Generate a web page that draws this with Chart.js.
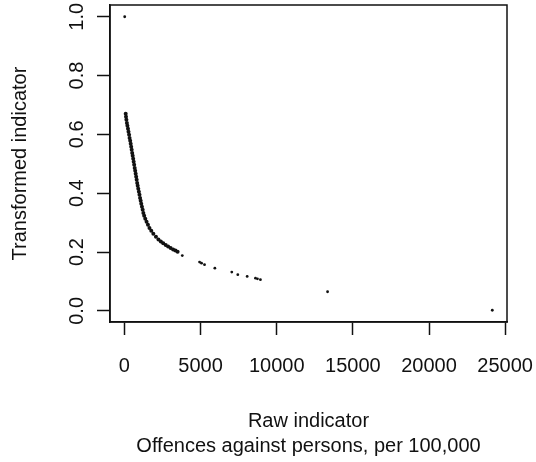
<!DOCTYPE html>
<html>
<head>
<meta charset="utf-8">
<script src="https://cdn.jsdelivr.net/npm/chart.js@4.4.1/dist/chart.umd.min.js"></script>
<style>
  html, body { margin: 0; padding: 0; background: #fff; }
  #wrap { width: 536px; height: 462px; position: relative; }
</style>
</head>
<body>
<div id="wrap"><canvas id="c" width="536" height="462"></canvas></div>
<script>
// Raw indicator (offences against persons per 100,000) — dense part of the curve
const curveRaw = [85, 105, 131, 164, 197, 236, 269, 308, 341, 380, 413, 446, 478, 511, 544, 577,
  609, 642, 675, 708, 740, 773, 806, 839, 872, 911, 950, 990, 1029, 1068, 1107, 1153, 1199,
  1245, 1298, 1370, 1455, 1547, 1645, 1763, 1900, 2071, 2235, 2392, 2549, 2713, 2870, 3034,
  3198, 3349, 3493];
const curveTransformed = [0.670, 0.660, 0.650, 0.639, 0.629, 0.619, 0.609, 0.599, 0.588, 0.578,
  0.568, 0.558, 0.548, 0.537, 0.527, 0.517, 0.507, 0.497, 0.486, 0.476, 0.466, 0.456, 0.446,
  0.435, 0.425, 0.415, 0.405, 0.395, 0.384, 0.374, 0.364, 0.354, 0.344, 0.333, 0.323, 0.313,
  0.303, 0.293, 0.282, 0.272, 0.262, 0.252, 0.243, 0.236, 0.230, 0.224, 0.219, 0.214, 0.209,
  0.205, 0.201];
// isolated points
const sparseRaw = [20, 3801, 4935, 5065, 5260, 5940, 7050, 7445, 8060, 8605, 8735, 8930, 13340, 24155];
const sparseTransformed = [1.0, 0.188, 0.166, 0.162, 0.157, 0.145, 0.132, 0.123, 0.117, 0.111, 0.109, 0.106, 0.065, 0.002];

const xTicks = [0, 5000, 10000, 15000, 20000, 25000];
const yTicks = [0.0, 0.2, 0.4, 0.6, 0.8, 1.0];
const xTitle = ['Raw indicator', 'Offences against persons, per 100,000'];
const yTitle = 'Transformed indicator';

function toPoints(xs, ys) { return xs.map((x, i) => ({ x: x, y: ys[i] })); }

// R-style axis extension (4% of range)
const allX = curveRaw.concat(sparseRaw), allY = curveTransformed.concat(sparseTransformed);
const xMinD = Math.min(...allX), xMaxD = Math.max(...allX);
const yMinD = Math.min(...allY), yMaxD = Math.max(...allY);
const xPad = 0.04 * (xMaxD - xMinD), yPad = 0.04 * (yMaxD - yMinD);

const FONT = { family: '"Liberation Sans", Arial, Helvetica, sans-serif', size: 20, lineHeight: 1.25 };
const INK = '#111';

const boxPlugin = {
  id: 'box',
  afterDraw(chart) {
    const { ctx, chartArea: a } = chart;
    ctx.save();
    ctx.strokeStyle = INK;
    ctx.lineWidth = 1.5;
    ctx.strokeRect(a.left, a.top, a.right - a.left, a.bottom - a.top);
    ctx.restore();
  }
};

new Chart(document.getElementById('c'), {
  type: 'scatter',
  data: {
    datasets: [
      { data: toPoints(curveRaw, curveTransformed), backgroundColor: INK, borderWidth: 0, pointRadius: 2.0, pointHoverRadius: 2.0 },
      { data: toPoints(sparseRaw, sparseTransformed), backgroundColor: INK, borderWidth: 0, pointRadius: 1.4, pointHoverRadius: 1.4 }
    ]
  },
  options: {
    responsive: false,
    animation: false,
    devicePixelRatio: 1,
    layout: { padding: { top: 5, right: 29, bottom: 0, left: 0 } },
    plugins: { legend: { display: false }, tooltip: { enabled: false } },
    scales: {
      x: {
        type: 'linear',
        min: xMinD - xPad,
        max: xMaxD + xPad,
        afterBuildTicks(s) { s.ticks = xTicks.map(v => ({ value: v })); },
        afterFit(s) { s.height = 140; s.paddingLeft = 0; s.paddingRight = 0; },
        border: { display: true, color: INK, width: 1.5 },
        grid: { drawOnChartArea: false, drawTicks: true, tickLength: 13, tickColor: INK, tickWidth: 1.5 },
        ticks: {
          color: INK, font: FONT, padding: 19,
          maxRotation: 0, minRotation: 0, autoSkip: false,
          callback: v => String(v)
        },
        title: { display: true, text: xTitle, color: INK, font: FONT, padding: { top: 0, bottom: 3 } }
      },
      y: {
        type: 'linear',
        min: yMinD - yPad,
        max: yMaxD + yPad,
        afterBuildTicks(s) { s.ticks = yTicks.map(v => ({ value: v })); },
        afterFit(s) { s.width = 110; s.paddingTop = 0; s.paddingBottom = 0; },
        border: { display: true, color: INK, width: 1.5 },
        grid: { drawOnChartArea: false, drawTicks: true, tickLength: 13, tickColor: INK, tickWidth: 1.5 },
        ticks: {
          color: INK, font: FONT, padding: 6,
          minRotation: 90, maxRotation: 90, crossAlign: 'center', autoSkip: false,
          callback: v => Number(v).toFixed(1)
        },
        title: { display: true, text: yTitle, color: INK, font: FONT, padding: { top: 8, bottom: 0 } }
      }
    }
  },
  plugins: [boxPlugin]
});
</script>
</body>
</html>
